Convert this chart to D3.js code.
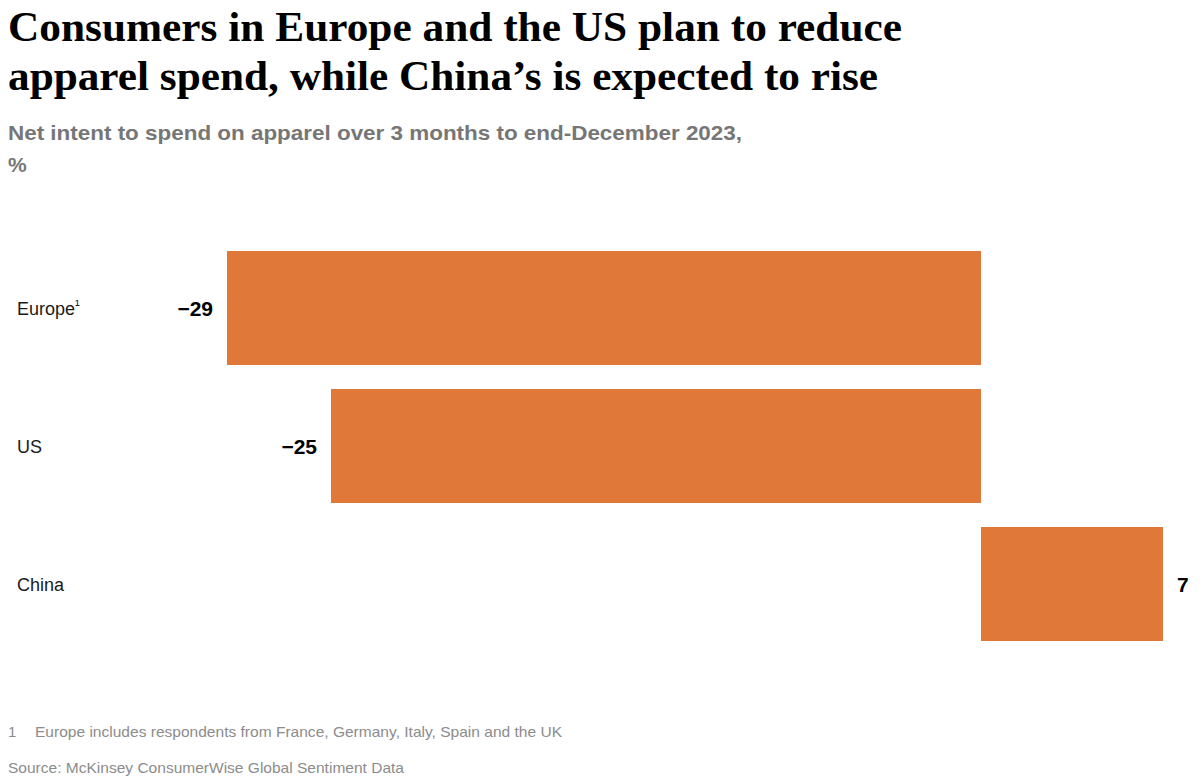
<!DOCTYPE html>
<html>
<head>
<meta charset="utf-8">
<script src="https://cdn.jsdelivr.net/npm/d3@7"></script>
<style>
  body { margin: 0; background: #fff; }
  svg { display: block; }
</style>
</head>
<body>
<div id="chart"></div>
<script>
var categories = ["Europe", "US", "China"];
var catSup = ["\u00B9", "", ""];
var values = [-29, -25, 7];
var valueLabels = ["\u221229", "\u221225", "7"];

var titleLines = ["Consumers in Europe and the US plan to reduce",
                  "apparel spend, while China\u2019s is expected to rise"];
var subtitleLines = ["Net intent to spend on apparel over 3 months to end-December 2023,", "%"];
var footnote = "Europe includes respondents from France, Germany, Italy, Spain and the UK";
var source = "Source: McKinsey ConsumerWise Global Sentiment Data";

var svgWidth = 1200;
var svgHeight = 781;
var sans = "'Liberation Sans', Arial, sans-serif";
var barColor = "#df7839";

var svg = d3.select("#chart")
  .append("svg")
  .attr("width", svgWidth)
  .attr("height", svgHeight);

// title
svg.selectAll("text.title")
  .data(titleLines)
  .enter()
  .append("text")
  .attr("class", "title")
  .attr("x", 8)
  .attr("y", function(d, i) { return 41 + i * 49; })
  .attr("textLength", function(d, i) { return i == 0 ? 894 : 870; })
  .attr("lengthAdjust", "spacingAndGlyphs")
  .attr("font-family", "'Liberation Serif', 'DejaVu Serif', serif")
  .attr("font-weight", "bold")
  .attr("font-size", 42)
  .attr("fill", "#000")
  .text(function(d) { return d; });

// subtitle
svg.selectAll("text.sub")
  .data(subtitleLines)
  .enter()
  .append("text")
  .attr("class", "sub")
  .attr("x", 8)
  .attr("y", function(d, i) { return 140 + i * 32; })
  .attr("font-family", sans)
  .attr("font-weight", "bold")
  .attr("font-size", 21)
  .attr("fill", "#767676")
  .text(function(d) { return d; });
svg.select("text.sub")
  .attr("textLength", 734)
  .attr("lengthAdjust", "spacingAndGlyphs");

// scales
var x = d3.scaleLinear()
  .domain([d3.min(values), d3.max(values)])
  .range([227, 1163]);

var y = d3.scaleBand()
  .domain(categories)
  .range([251, 641])
  .paddingInner(24 / 138)
  .paddingOuter(0);

var rows = categories.map(function(c, i) {
  return { cat: c, sup: catSup[i], v: values[i], label: valueLabels[i] };
});

svg.selectAll("rect.bar")
  .data(rows)
  .enter()
  .append("rect")
  .attr("class", "bar")
  .attr("x", function(d) { return x(Math.min(0, d.v)); })
  .attr("y", function(d) { return y(d.cat); })
  .attr("width", function(d) { return Math.abs(x(d.v) - x(0)); })
  .attr("height", y.bandwidth())
  .attr("fill", barColor);

// category labels
var cl = svg.selectAll("text.cat")
  .data(rows)
  .enter()
  .append("text")
  .attr("class", "cat")
  .attr("x", 17)
  .attr("y", function(d) { return y(d.cat) + y.bandwidth() / 2 + 7; })
  .attr("font-family", sans)
  .attr("font-size", 18)
  .attr("fill", "#1a1a1a");
cl.append("tspan").text(function(d) { return d.cat; });
cl.append("tspan")
  .attr("font-size", 14)
  .attr("dy", -5)
  .text(function(d) { return d.sup; });

// value labels
svg.selectAll("text.val")
  .data(rows)
  .enter()
  .append("text")
  .attr("class", "val")
  .attr("x", function(d) { return d.v < 0 ? x(d.v) - 14 : x(d.v) + 14; })
  .attr("y", function(d) { return y(d.cat) + y.bandwidth() / 2 + 8; })
  .attr("text-anchor", function(d) { return d.v < 0 ? "end" : "start"; })
  .attr("font-family", sans)
  .attr("font-weight", "bold")
  .attr("font-size", 21)
  .attr("fill", "#000")
  .text(function(d) { return d.label; });

// footnotes
svg.append("text")
  .attr("x", 8)
  .attr("y", 737)
  .attr("font-family", sans)
  .attr("font-size", 15)
  .attr("fill", "#8c8c8c")
  .text("1");
svg.append("text")
  .attr("x", 35)
  .attr("y", 737)
  .attr("font-family", sans)
  .attr("font-size", 15)
  .attr("fill", "#8c8c8c")
  .attr("textLength", 527)
  .attr("lengthAdjust", "spacingAndGlyphs")
  .text(footnote);
svg.append("text")
  .attr("x", 8)
  .attr("y", 773)
  .attr("font-family", sans)
  .attr("font-size", 15)
  .attr("fill", "#8c8c8c")
  .attr("textLength", 396)
  .attr("lengthAdjust", "spacingAndGlyphs")
  .text(source);
</script>
</body>
</html>
